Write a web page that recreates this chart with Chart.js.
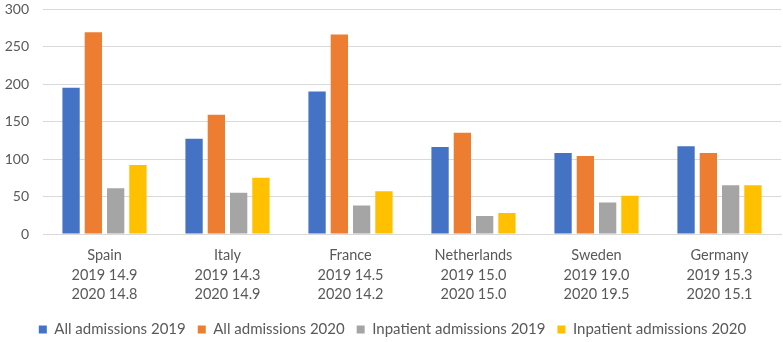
<!DOCTYPE html>
<html>
<head>
<meta charset="utf-8">
<script src="https://cdn.jsdelivr.net/npm/chart.js@4.4.1/dist/chart.umd.min.js"></script>
<style>
    html, body { margin: 0; padding: 0; background: #ffffff; }
    #wrap { width: 783px; height: 342px; position: relative; }
</style>
</head>
<body>
<div id="wrap"><canvas id="chart"></canvas></div>
<script>
// Chart data
const countries = ['Spain', 'Italy', 'France', 'Netherlands', 'Sweden', 'Germany'];
const stay2019 = ['14.9', '14.3', '14.5', '15.0', '19.0', '15.3'];
const stay2020 = ['14.8', '14.9', '14.2', '15.0', '19.5', '15.1'];

const allAdmissions2019 = [195, 127, 190, 116, 108, 117];
const allAdmissions2020 = [269, 159, 266, 135, 104, 108];
const inpatient2019 = [61, 55, 38, 24, 42, 65];
const inpatient2020 = [92, 75, 57, 28, 51, 65];

const yTicks = [0, 50, 100, 150, 200, 250, 300];

// Multi-line category labels
const labels = countries.map((name, i) => [name, '2019 ' + stay2019[i], '2020 ' + stay2020[i]]);

const textColor = '#595959';
const gridColor = '#d9d9d9';
const fontFamily = 'Lato, "Open Sans", sans-serif';

const datasets = [
    { label: 'All admissions 2019', data: allAdmissions2019, backgroundColor: '#4472C4' },
    { label: 'All admissions 2020', data: allAdmissions2020, backgroundColor: '#ED7D31' },
    { label: 'Inpatient admissions 2019', data: inpatient2019, backgroundColor: '#A5A5A5' },
    { label: 'Inpatient admissions 2020', data: inpatient2020, backgroundColor: '#FFC000' }
].map(ds => Object.assign(ds, {
    categoryPercentage: 0.725,
    barPercentage: 0.776,
    borderWidth: 0
}));

// Nudge the legend row down a little after layout
const legendShift = {
    id: 'legendShift',
    afterLayout(chart) {
        const lg = chart.legend;
        if (lg) {
            lg.top += 5;
            lg.bottom += 5;
        }
    }
};

new Chart(document.getElementById('chart'), {
    type: 'bar',
    data: { labels: labels, datasets: datasets },
    plugins: [legendShift],
    options: {
        responsive: true,
        maintainAspectRatio: false,
        animation: false,
        layout: {
            padding: { left: 4, right: 2, top: 2, bottom: 0 }
        },
        plugins: {
            legend: {
                position: 'bottom',
                labels: {
                    color: textColor,
                    boxWidth: 8,
                    boxHeight: 8,
                    padding: 12,
                    font: { family: fontFamily, size: 15 }
                }
            },
            tooltip: { enabled: false }
        },
        scales: {
            x: {
                grid: { display: false, drawTicks: false },
                border: { display: true, color: gridColor, width: 1 },
                ticks: {
                    color: textColor,
                    padding: 12,
                    maxRotation: 0,
                    autoSkip: false,
                    font: { family: fontFamily, size: 14.5, lineHeight: 1.33 }
                },
                afterFit: scale => {
                    scale.paddingLeft = 0;
                    scale.paddingRight = 0;
                    scale.height = 71;
                }
            },
            y: {
                min: 0,
                max: 300,
                afterBuildTicks: axis => {
                    axis.ticks = yTicks.map(v => ({ value: v }));
                },
                grid: { color: gridColor, lineWidth: 1, drawTicks: false },
                border: { display: false },
                ticks: {
                    color: textColor,
                    padding: 14,
                    font: { family: fontFamily, size: 14 }
                },
                afterFit: scale => {
                    scale.paddingTop = 9;
                    scale.paddingBottom = 0;
                    scale.width = 39;
                }
            }
        }
    }
});
</script>
</body>
</html>
